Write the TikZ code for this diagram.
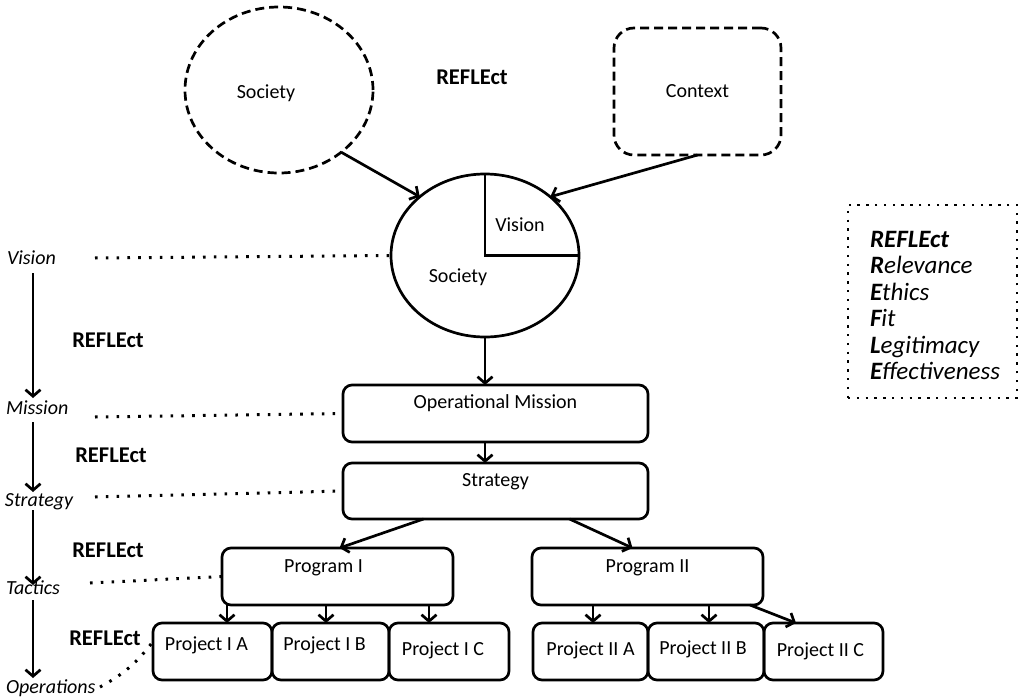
\documentclass[tikz,border=0pt]{standalone}
\usepackage{fontspec}
\setmainfont{Carlito}
\usetikzlibrary{arrows.meta,shapes.geometric,calc}

\begin{document}
\begin{tikzpicture}[x=1pt,y=-1pt,
  every node/.style={font=\fontsize{20}{24}\selectfont, inner sep=0pt, outer sep=0pt},
  thick line/.style={line width=2.7pt},
  arr/.style={line width=2.7pt, -{Straight Barb[length=6.5pt,width=15pt]}},
  box/.style={draw, line width=2.7pt, rounded corners=9pt, anchor=north west},
  sz/.style 2 args={minimum width=#1, minimum height=#2},
  cap/.style n args={3}{label={[anchor=center,xshift=#1pt,yshift=-#2pt]north:#3}},
  dashedline/.style={line width=2.7pt, dash pattern=on 9pt off 5pt},
  dotline/.style={line width=3pt, dash pattern=on 2.6pt off 8.2pt},
  dotframe/.style={line width=2.6pt, dash pattern=on 2.4pt off 6.4pt},
  lvl/.style={font=\fontsize{20}{24}\selectfont\itshape, anchor=west},
  refl/.style={font=\fontsize{22.5}{27}\selectfont\bfseries}
]
\useasboundingbox (0,0) rectangle (1025,698);

% outer influences
\node[draw, dashedline, ellipse, sz={188}{166}, cap={-13}{86}{Society}] (soc) at (279,90) {};
\node[draw, dashedline, rounded corners=20pt, sz={167}{127}] (ctx) at (697.5,91.5) {Context};
\node[refl] (r0) at (472,77) {REFLEct};

% vision circle
\node[draw, thick line, ellipse, sz={188}{163}] (circ) at (485,255.5) {};
\draw[thick line] (circ.north) -- (circ.center) -- (circ.east);
\node (vis) at (520,225) {Vision};
\node (soci) at (458,277) {Society};
\draw[arr] (soc.-45) -- (circ.138);
\draw[arr] (ctx.south) -- (circ.42);

% mission and strategy
\node[box, sz={305}{57}, cap={0}{18}{Operational Mission}] (om) at (343,385) {};
\node[box, sz={305}{56}, cap={0}{19}{Strategy}] (st) at (343,463) {};
\coordinate (cx) at (circ.south);
\draw[arr] (cx) -- (cx |- om.north);
\draw[arr] (cx |- om.south) -- (cx |- st.north);

% programs
\node[box, sz={231}{57}, cap={-14}{20}{Program I}] (p1) at (222,548) {};
\node[box, sz={231}{57}, cap={0}{20}{Program II}] (p2) at (532,548) {};
\draw[arr] ($(st.south)+(-72,0)$) -- ($(p1.north)+(2,0)$);
\draw[arr] ($(st.south)+(74,0)$) -- ($(p2.north)+(-15,0)$);

% projects
\node[box, sz={119}{57}, cap={-6}{22}{Project I A}] (pia) at (153,623) {};
\node[box, sz={117}{57}, cap={-6}{22}{Project I B}] (pib) at (272,623) {};
\node[box, sz={120}{57}, cap={-6}{27}{Project I C}] (pic) at (389,623) {};
\node[box, sz={115}{57}, cap={0}{27}{Project II A}] (piia) at (533,623) {};
\node[box, sz={116}{57}, cap={-3}{26}{Project II B}] (piib) at (648,623) {};
\node[box, sz={119}{57}, cap={-3}{28}{Project II C}] (piic) at (764,623) {};

\coordinate (a1) at (227,0);
\coordinate (a2) at (326,0);
\coordinate (a3) at (429,0);
\coordinate (b1) at (593,0);
\coordinate (b2) at (709,0);
\draw[arr] (a1 |- p1.south) -- (a1 |- pia.north);
\draw[arr] (a2 |- p1.south) -- (a2 |- pib.north);
\draw[arr] (a3 |- p1.south) -- (a3 |- pic.north);
\draw[arr] (b1 |- p2.south) -- (b1 |- piia.north);
\draw[arr] (b2 |- p2.south) -- (b2 |- piib.north);
\draw[arr] ($(p2.south east)+(-13,0)$) -- ($(piic.north west)+(32,0)$);

% levels on the left
\node[lvl] (lv) at (7,258) {Vision};
\node[lvl] (lm) at (6,408) {Mission};
\node[lvl] (ls) at (5,502) {Strategy};
\node[lvl] (lt) at (6,588) {Tactics};
\node[lvl] (lo) at (6,688) {Operations};
\coordinate (ax) at (33,0);
\draw[arr] (ax |- 0,273) -- (ax |- 0,398);
\draw[arr] (ax |- 0,422) -- (ax |- 0,492);
\draw[arr] (ax |- 0,510) -- (ax |- 0,585);
\draw[arr] (ax |- 0,600) -- (ax |- 0,678);

\node[refl] (r1) at (108,340) {REFLEct};
\node[refl] (r2) at (111,455) {REFLEct};
\node[refl] (r3) at (108,550) {REFLEct};
\node[refl] (r4) at (105,638) {REFLEct};

% dotted guides from each level to its element
\coordinate (dv) at (95,258);
\coordinate (dm) at (95,417);
\coordinate (ds) at (95,497);
\coordinate (dt) at (90,583);
\coordinate (do) at (100,687);
\draw[dotline] (dv) -- (circ.west);
\draw[dotline] (dm) -- (om.west);
\draw[dotline] (ds) -- (st.west);
\draw[dotline] (dt) -- (p1.west);
\draw[dotline] (do) to[bend right=12] ($(pia.west)+(0,-10)$);

% legend
\node[draw, dotframe, sz={169}{193}] (leg) at (932.5,301.5) {};
\node[anchor=west, align=left, font=\fontsize{25}{26.5}\selectfont\itshape] (legtxt) at ($(leg.west)+(22,4)$)
  {\textbf{REFLEct}\\ \textbf{R}elevance\\ \textbf{E}thics\\ \textbf{F}it\\ \textbf{L}egitimacy\\ \textbf{E}ffectiveness};
\end{tikzpicture}
\end{document}
